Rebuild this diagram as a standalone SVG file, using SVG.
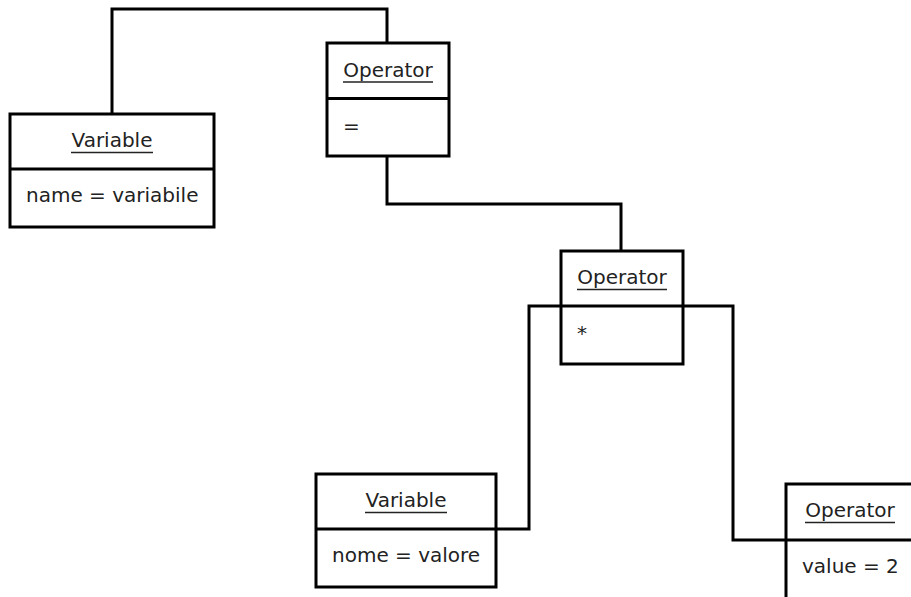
<svg xmlns="http://www.w3.org/2000/svg" width="911" height="597" viewBox="0 0 911 597">
  <style>
    .box { fill: #ffffff; stroke: #000000; stroke-width: 3; }
    .sep { stroke: #000000; stroke-width: 3; }
    .ul { stroke: #222222; stroke-width: 1.6; }
    .link { fill: none; stroke: #000000; stroke-width: 3; stroke-linejoin: miter; }
    text { font-family: "DejaVu Sans", "Liberation Sans", sans-serif; font-size: 20px; fill: #222222; }
    .title { text-anchor: middle; }
  </style>
  <rect width="911" height="597" fill="#ffffff"/>

  <!-- connectors between objects -->
  <g id="connectors">
    <path class="link" d="M112 114 V9 H387 V43"/>
    <path class="link" d="M387 156 V204 H621 V251"/>
    <path class="link" d="M561 306 H529 V529 H496"/>
    <path class="link" d="M683 306 H733 V540 H786"/>
  </g>

  <g id="variable-name">
    <rect class="box" x="10" y="114" width="204" height="113"/>
    <line class="sep" x1="10" y1="169" x2="214" y2="169"/>
    <text class="title" x="112" y="147">Variable</text>
    <line class="ul" x1="71" y1="152.5" x2="153" y2="152.5"/>
    <text x="26" y="202">name = variabile</text>
  </g>

  <g id="operator-assign">
    <rect class="box" x="327" y="43" width="122" height="113"/>
    <line class="sep" x1="327" y1="98.5" x2="449" y2="98.5"/>
    <text class="title" x="388" y="76.5">Operator</text>
    <line class="ul" x1="343" y1="82" x2="433" y2="82"/>
    <text x="343" y="132.5">=</text>
  </g>

  <g id="operator-mul">
    <rect class="box" x="561" y="251" width="122" height="113"/>
    <line class="sep" x1="561" y1="306" x2="683" y2="306"/>
    <text class="title" x="622" y="284">Operator</text>
    <line class="ul" x1="577" y1="289.5" x2="667" y2="289.5"/>
    <text x="577" y="339.5">*</text>
  </g>

  <g id="variable-nome">
    <rect class="box" x="316" y="474" width="180" height="113"/>
    <line class="sep" x1="316" y1="529" x2="496" y2="529"/>
    <text class="title" x="406" y="507">Variable</text>
    <line class="ul" x1="365" y1="512.5" x2="447" y2="512.5"/>
    <text x="332" y="562">nome = valore</text>
  </g>

  <g id="operator-value">
    <rect class="box" x="786" y="484" width="127" height="130"/>
    <line class="sep" x1="786" y1="540" x2="913" y2="540"/>
    <text class="title" x="850" y="517">Operator</text>
    <line class="ul" x1="805" y1="522.5" x2="895" y2="522.5"/>
    <text x="802" y="573">value = 2</text>
  </g>
</svg>
